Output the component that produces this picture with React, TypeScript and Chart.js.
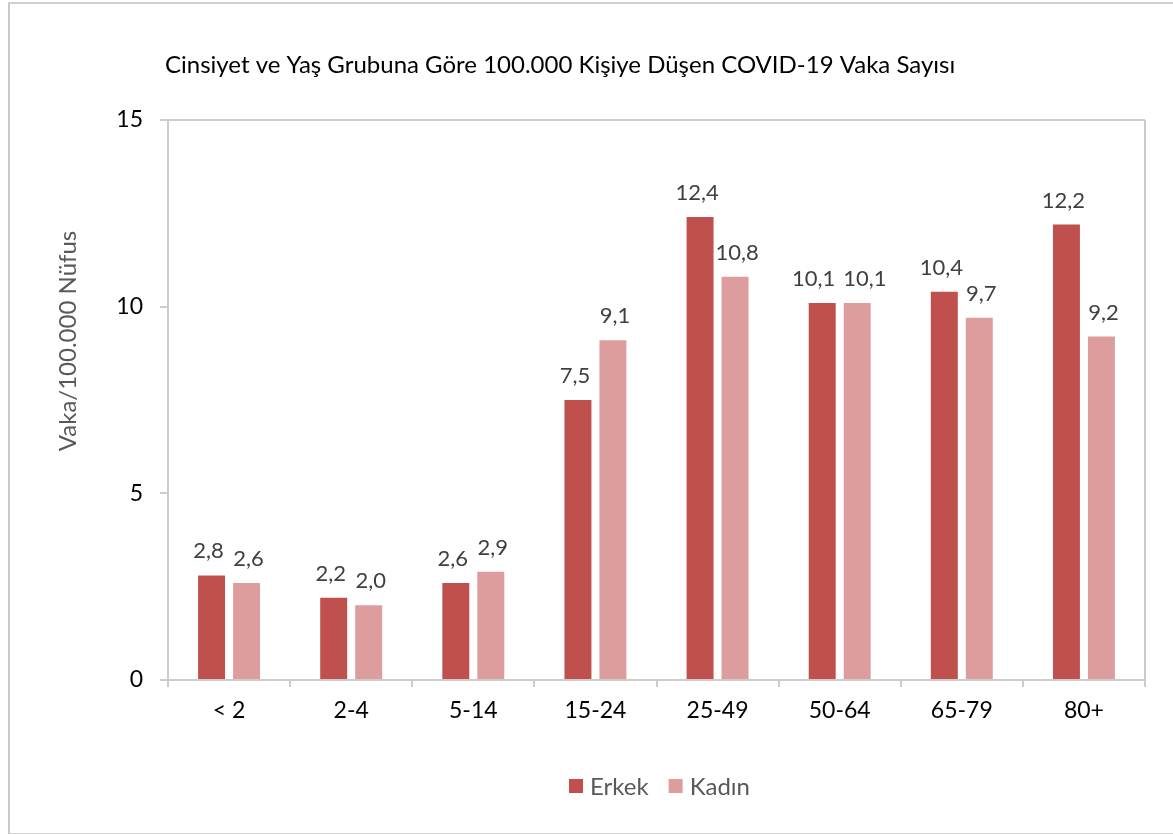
import React, { useEffect, useRef } from 'react';
import { Chart, registerables } from 'chart.js';

Chart.register(...registerables);

const categories = ['< 2', '2-4', '5-14', '15-24', '25-49', '50-64', '65-79', '80+'];
const erkekValues = [2.8, 2.2, 2.6, 7.5, 12.4, 10.1, 10.4, 12.2];
const kadinValues = [2.6, 2.0, 2.9, 9.1, 10.8, 10.1, 9.7, 9.2];
const seriesNames = ['Erkek', 'Kadın'];
const seriesColors = ['#C0504D', '#DE9D9D'];
const yMin = 0;
const yMax = 15;
const yStep = 5;
const chartTitle = 'Cinsiyet ve Yaş Grubuna Göre 100.000 Kişiye Düşen COVID-19 Vaka Sayısı';
const yAxisTitle = 'Vaka/100.000 Nüfus';

const FONT = 'Lato, "Open Sans", "DejaVu Sans", sans-serif';
const LINE = '#cccccc';

const fmt = (v: number) => v.toFixed(1).replace('.', ',');

const decorPlugin = {
  id: 'decor',
  beforeDatasetsDraw(chart: any) {
    const { ctx, chartArea: a } = chart;
    ctx.save();
    ctx.strokeStyle = LINE;
    ctx.lineWidth = 2;
    ctx.beginPath();
    ctx.moveTo(a.left, a.top);
    ctx.lineTo(a.right, a.top);
    ctx.moveTo(a.right, a.top);
    ctx.lineTo(a.right, a.bottom);
    ctx.stroke();
    ctx.restore();
  },
  afterDraw(chart: any) {
    const { ctx, chartArea: a } = chart;
    ctx.save();
    // title
    ctx.fillStyle = '#000000';
    ctx.font = `24px ${FONT}`;
    ctx.textAlign = 'left';
    ctx.textBaseline = 'middle';
    ctx.fillText(chartTitle, a.left - 3, a.top - 55);

    // y axis title
    ctx.save();
    ctx.translate(58, a.top + 221);
    ctx.rotate(-Math.PI / 2);
    ctx.fillStyle = '#595959';
    ctx.font = `24px ${FONT}`;
    ctx.textAlign = 'center';
    ctx.textBaseline = 'middle';
    ctx.fillText(yAxisTitle, 0, 0);
    ctx.restore();

    // data labels (pushed apart when the pair would collide)
    ctx.fillStyle = '#404040';
    ctx.font = `22px ${FONT}`;
    ctx.textAlign = 'center';
    ctx.textBaseline = 'alphabetic';
    const m0 = chart.getDatasetMeta(0);
    const m1 = chart.getDatasetMeta(1);
    const d0 = chart.data.datasets[0].data;
    const d1 = chart.data.datasets[1].data;
    const minGap = 8;
    for (let i = 0; i < m0.data.length; i++) {
      const e0 = m0.data[i];
      const e1 = m1.data[i];
      const t0 = fmt(d0[i]);
      const t1 = fmt(d1[i]);
      const w0 = ctx.measureText(t0).width;
      const w1 = ctx.measureText(t1).width;
      let x0 = e0.x - 3;
      let x1 = e1.x + 2;
      if (Math.abs(e0.y - e1.y) < 22) {
        const overlap = x0 + w0 / 2 + minGap - (x1 - w1 / 2);
        if (overlap > 0) {
          x0 -= overlap / 2;
          x1 += overlap / 2;
        }
      }
      ctx.fillText(t0, x0, e0.y - 17);
      ctx.fillText(t1, x1, e1.y - 17);
    }

    // legend
    ctx.font = `24px ${FONT}`;
    ctx.textBaseline = 'middle';
    ctx.textAlign = 'left';
    const box = 14;
    const gapBoxText = 7;
    const gapItems = 20;
    const widths = chart.data.datasets.map((ds: any) => box + gapBoxText + ctx.measureText(ds.label).width);
    const total = widths.reduce((s: number, w: number) => s + w, 0) + gapItems * (widths.length - 1);
    let x = (a.left + a.right) / 2 + 3 - total / 2;
    const y = a.bottom + 106;
    chart.data.datasets.forEach((ds: any, di: number) => {
      ctx.fillStyle = ds.backgroundColor;
      ctx.fillRect(x, y - box / 2, box, box);
      ctx.fillStyle = '#595959';
      ctx.fillText(ds.label, x + box + gapBoxText, y + 1);
      x += widths[di] + gapItems;
    });
    ctx.restore();
  },
};

export default function App() {
  const canvasRef = useRef<HTMLCanvasElement | null>(null);

  useEffect(() => {
    const canvas = canvasRef.current;
    if (!canvas) return;
    const chart = new Chart(canvas, {
      type: 'bar',
      data: {
        labels: categories,
        datasets: [
          {
            label: seriesNames[0],
            data: erkekValues,
            backgroundColor: seriesColors[0],
            barPercentage: 0.771,
            categoryPercentage: 0.573,
          },
          {
            label: seriesNames[1],
            data: kadinValues,
            backgroundColor: seriesColors[1],
            barPercentage: 0.771,
            categoryPercentage: 0.573,
          },
        ],
      },
      options: {
        responsive: false,
        animation: false,
        devicePixelRatio: 1,
        layout: { padding: { left: 0, right: 30, top: 116, bottom: 93 } },
        plugins: {
          legend: { display: false },
          title: { display: false },
          tooltip: { enabled: false },
        },
        scales: {
          x: {
            grid: {
              display: true,
              drawOnChartArea: false,
              drawTicks: true,
              offset: true,
              tickLength: 7,
              color: LINE,
              lineWidth: 2,
            },
            border: { display: true, color: LINE, width: 2 },
            ticks: {
              color: '#000000',
              font: { family: FONT, size: 23 },
              padding: 10,
            },
            afterFit: (s: any) => {
              s.height = 60;
            },
          },
          y: {
            min: yMin,
            max: yMax,
            grid: {
              display: true,
              drawOnChartArea: false,
              drawTicks: true,
              tickLength: 8,
              color: LINE,
              lineWidth: 2,
            },
            border: { display: true, color: LINE, width: 2 },
            ticks: {
              stepSize: yStep,
              color: '#000000',
              font: { family: FONT, size: 23 },
              padding: 17,
            },
            afterFit: (s: any) => {
              s.width = 158;
            },
          },
        },
      },
      plugins: [decorPlugin],
    });
    return () => chart.destroy();
  }, []);

  return (
    <div
      style={{
        position: 'fixed',
        left: 8,
        top: 2,
        width: 1165,
        height: 829,
        borderLeft: '2px solid #c8c8c8',
        borderTop: '2px solid #d0d0d0',
        borderBottom: '2px solid #d0d0d0',
        background: '#ffffff',
        overflow: 'hidden',
      }}
    >
      <canvas ref={canvasRef} width={1165} height={829} style={{ display: 'block' }} />
    </div>
  );
}
